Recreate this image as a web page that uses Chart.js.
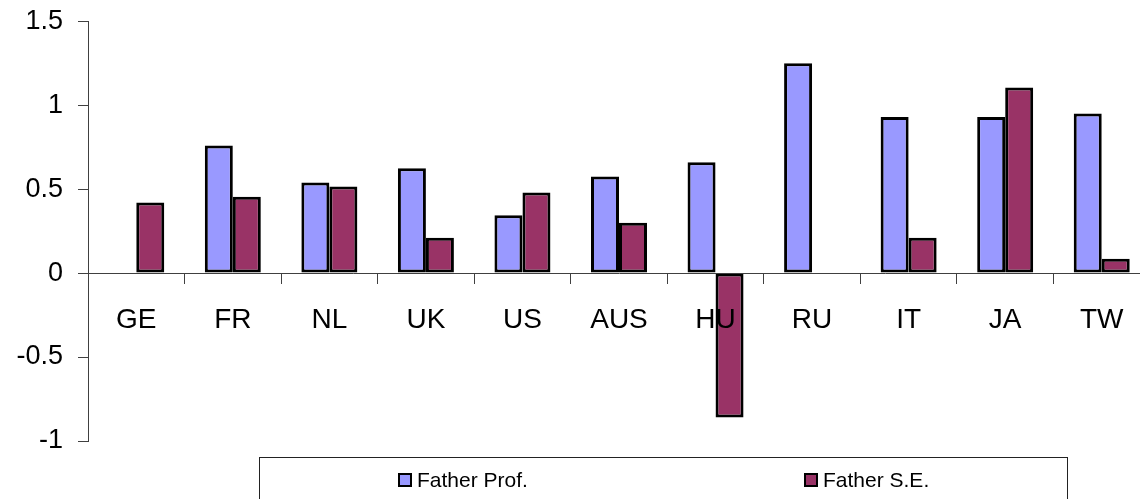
<!DOCTYPE html>
<html>
<head>
<meta charset="utf-8">
<script src="https://cdn.jsdelivr.net/npm/chart.js@4.4.0/dist/chart.umd.min.js"></script>
<style>
  html, body { margin: 0; padding: 0; background: #fff; overflow: hidden; }
  #wrap { width: 1150px; height: 509px; margin-top: -10px; }
</style>
</head>
<body>
<div id="wrap"><canvas id="myChart" width="1150" height="509"></canvas></div>
<script>
const countries = ['GE', 'FR', 'NL', 'UK', 'US', 'AUS', 'HU', 'RU', 'IT', 'JA', 'TW'];
const fatherProf = [null, 0.76, 0.54, 0.625, 0.345, 0.575, 0.66, 1.25, 0.93, 0.93, 0.95];
const fatherSE = [0.42, 0.455, 0.515, 0.21, 0.48, 0.30, -0.86, null, 0.21, 1.105, 0.085];
const yTicks = { min: -1, max: 1.5, step: 0.5 };

const fontFamily = '"Liberation Sans", Arial, sans-serif';

// legend in a box under the plot, like the original
const boxLegend = {
  id: 'boxLegend',
  afterDraw(chart) {
    const ctx = chart.ctx;
    ctx.save();
    ctx.strokeStyle = '#222';
    ctx.lineWidth = 1;
    ctx.strokeRect(259.5, 467.5, 808, 60);

    const itemX = [398, 804];
    chart.data.datasets.forEach((ds, i) => {
      const x = itemX[i];
      ctx.fillStyle = ds.backgroundColor;
      ctx.fillRect(x, 483, 14, 14);
      ctx.strokeStyle = '#000';
      ctx.lineWidth = 2;
      ctx.strokeRect(x + 1, 484, 12, 12);
      ctx.fillStyle = '#000';
      ctx.font = '21px ' + fontFamily;
      ctx.textBaseline = 'middle';
      ctx.textAlign = 'left';
      ctx.fillText(ds.label, x + 19, 491);
    });
    ctx.restore();
  }
};

const ctx = document.getElementById('myChart').getContext('2d');
const myChart = new Chart(ctx, {
  type: 'bar',
  data: {
    labels: countries,
    datasets: [{
      label: 'Father Prof.',
      data: fatherProf,
      backgroundColor: '#9999FF',
      borderColor: '#000',
      borderWidth: 3,
      borderSkipped: false
    }, {
      label: 'Father S.E.',
      data: fatherSE,
      backgroundColor: '#993366',
      borderColor: '#000',
      borderWidth: 3,
      borderSkipped: false
    }]
  },
  options: {
    responsive: false,
    animation: false,
    categoryPercentage: 0.58,
    barPercentage: 1,
    layout: {
      padding: { top: 11, bottom: 58, left: 0, right: 0 }
    },
    plugins: {
      legend: { display: false },
      tooltip: { enabled: false }
    },
    scales: {
      x: {
        position: { y: 0 },
        border: { color: '#404040', width: 1, z: 1 },
        grid: {
          drawOnChartArea: false,
          drawTicks: true,
          tickLength: 10,
          color: '#404040',
          z: 1
        },
        ticks: {
          color: '#000',
          padding: 20,
          font: { family: fontFamily, size: 28 },
          maxRotation: 0,
          autoSkip: false,
          z: 1
        }
      },
      y: {
        min: yTicks.min,
        max: yTicks.max,
        afterFit: function (scale) {
          scale.width = 88;
        },
        border: { color: '#404040', width: 1 },
        grid: {
          drawOnChartArea: false,
          drawTicks: true,
          tickLength: 10,
          color: '#404040'
        },
        ticks: {
          stepSize: yTicks.step,
          color: '#000',
          padding: 15,
          font: { family: fontFamily, size: 27 },
          callback: value => String(value)
        }
      }
    }
  },
  plugins: [boxLegend]
});
</script>
</body>
</html>
